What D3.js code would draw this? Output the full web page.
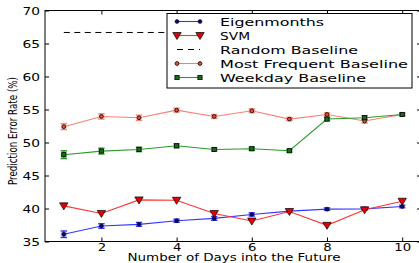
<!DOCTYPE html>
<html>
<head>
<meta charset="utf-8">
<script src="https://cdn.jsdelivr.net/npm/d3@7"></script>
<style>
  body { margin: 0; background: #fff; }
  svg { display: block; overflow: hidden; }
  text { font-family: "DejaVu Sans", sans-serif; fill: #000; }
</style>
</head>
<body>
<svg width="419" height="263"></svg>
<script>
var days = [1, 2, 3, 4, 5, 6, 7, 8, 9, 10];
var eigenmonths = [36.1, 37.35, 37.6, 38.15, 38.5, 39.1, 39.6, 39.9, 39.95, 40.3];
var eigenErr = [0.5, 0.35, 0.3, 0.25, 0.3, 0.25, 0.2, 0.2, 0.2, 0.2];
var svm = [40.4, 39.25, 41.3, 41.25, 39.25, 38.1, 39.55, 37.45, 39.8, 41.1];
var randomBaseline = 66.67;
var mostFrequent = [52.4, 53.95, 53.75, 54.9, 53.95, 54.8, 53.55, 54.25, 53.25, 54.25];
var mfErr = [0.45, 0.4, 0.4, 0.3, 0.3, 0.3, 0.25, 0.25, 0.3, 0.2];
var weekday = [48.15, 48.7, 48.95, 49.5, 48.95, 49.05, 48.75, 53.55, 53.75, 54.25];
var wdErr = [0.6, 0.45, 0.35, 0.3, 0.25, 0.25, 0.2, 0.25, 0.3, 0.2];
var xTicks = [2, 4, 6, 8, 10];
var yTicks = [35, 40, 45, 50, 55, 60, 65, 70];
var legendNames = ["Eigenmonths", "SVM", "Random Baseline", "Most Frequent Baseline", "Weekday Baseline"];

var svg = d3.select("svg");

var pLeft = 45, pRight = 421, pTop = 10.5, pBottom = 241.5;

var x = d3.scaleLinear().domain([0.5, 10.5]).range([pLeft, pRight]);
var y = d3.scaleLinear().domain([35, 70]).range([pBottom, pTop]);

// stretch text horizontally (reference glyphs are wider than DejaVu)
function stretch(sel, k) {
  sel.each(function() {
    var w = this.getComputedTextLength();
    d3.select(this).attr("textLength", w * k).attr("lengthAdjust", "spacingAndGlyphs");
  });
}

var line = d3.line().x((d, i) => x(days[i])).y(d => y(d));

var series = [
  {name: "Most Frequent Baseline", vals: mostFrequent, err: mfErr, color: "#fa8072", marker: "mfcircle"},
  {name: "Weekday Baseline", vals: weekday, err: wdErr, color: "#2a9a2a", marker: "square"},
  {name: "Eigenmonths", vals: eigenmonths, err: eigenErr, color: "#3535ff", marker: "dot"},
  {name: "SVM", vals: svm, err: null, color: "#ff3434", marker: "tri"}
];

function drawMarker(g, type, cx, cy) {
  if (type == "dot") {
    g.append("circle").attr("cx", cx).attr("cy", cy).attr("r", 2)
      .attr("fill", "#0a0a6a").attr("stroke", "#000").attr("stroke-width", 0.5);
  } else if (type == "mfcircle") {
    g.append("circle").attr("cx", cx).attr("cy", cy).attr("r", 1.9)
      .attr("fill", "#e8503c").attr("stroke", "#000").attr("stroke-width", 0.8);
  } else if (type == "square") {
    g.append("rect").attr("x", cx - 2.1).attr("y", cy - 2.1).attr("width", 4.2).attr("height", 4.2)
      .attr("fill", "#1d6a1d").attr("stroke", "#000").attr("stroke-width", 0.8);
  } else if (type == "tri") {
    g.append("path").attr("d", "M" + (cx - 4.2) + "," + (cy - 3) + "L" + (cx + 4.2) + "," + (cy - 3) + "L" + cx + "," + (cy + 4) + "Z")
      .attr("fill", "#e40000").attr("stroke", "#000").attr("stroke-width", 0.7);
  }
}

var plot = svg.append("g");

// random baseline
plot.append("line")
  .attr("x1", x(1)).attr("x2", x(10))
  .attr("y1", y(randomBaseline)).attr("y2", y(randomBaseline))
  .attr("stroke", "#000").attr("stroke-width", 1).attr("stroke-dasharray", "6,4.5");

series.forEach(function(s) {
  var g = plot.append("g");
  g.append("path").attr("d", line(s.vals)).attr("fill", "none")
    .attr("stroke", s.color).attr("stroke-width", 1.1);
  if (s.err) {
    s.vals.forEach(function(v, i) {
      var cx = x(days[i]), y0 = y(v - s.err[i]), y1 = y(v + s.err[i]);
      g.append("rect").attr("x", cx - 3).attr("y", y1).attr("width", 6).attr("height", y0 - y1)
        .attr("fill", s.color).attr("opacity", 0.3);
      g.append("line").attr("x1", cx).attr("x2", cx).attr("y1", y0).attr("y2", y1)
        .attr("stroke", s.color).attr("stroke-width", 1.3);
      [y0, y1].forEach(function(yy) {
        g.append("line").attr("x1", cx - 3.2).attr("x2", cx + 3.2).attr("y1", yy).attr("y2", yy)
          .attr("stroke", s.color).attr("stroke-width", 1.3);
      });
    });
  }
  s.vals.forEach(function(v, i) { drawMarker(g, s.marker, x(days[i]), y(v)); });
});

// spines
svg.append("rect").attr("x", pLeft).attr("y", pTop).attr("width", pRight - pLeft).attr("height", pBottom - pTop)
  .attr("fill", "none").attr("stroke", "#000").attr("stroke-width", 1);

// axes with inward ticks
var xAxis = svg.append("g").attr("transform", "translate(0," + pBottom + ")")
  .call(d3.axisBottom(x).tickValues(xTicks).tickSizeInner(-4).tickSizeOuter(0).tickPadding(3.5));
var xTop = svg.append("g").attr("transform", "translate(0," + pTop + ")")
  .call(d3.axisTop(x).tickValues(xTicks).tickSizeInner(-4).tickSizeOuter(0).tickFormat(""));
var yAxis = svg.append("g").attr("transform", "translate(" + pLeft + ",0)")
  .call(d3.axisLeft(y).tickValues(yTicks).tickSizeInner(-4).tickSizeOuter(0).tickPadding(5));
var yRight = svg.append("g").attr("transform", "translate(" + pRight + ",0)")
  .call(d3.axisRight(y).tickValues(yTicks).tickSizeInner(-4).tickSizeOuter(0).tickFormat(""));

[xAxis, xTop, yAxis, yRight].forEach(function(a) {
  a.select(".domain").remove();
  a.selectAll(".tick line").attr("stroke", "#000");
});
xAxis.selectAll("text").attr("font-size", 11).attr("font-family", "DejaVu Sans").attr("dy", "0.5em");
yAxis.selectAll("text").attr("font-size", 11).attr("font-family", "DejaVu Sans");
stretch(xAxis.selectAll("text"), 1.2);
stretch(yAxis.selectAll("text"), 1.25);

// axis labels
var xl = svg.append("text").attr("x", (pLeft + pRight) / 2 + 1).attr("y", 261)
  .attr("text-anchor", "middle").attr("font-size", 10.5).text("Number of Days into the Future");
xl.attr("textLength", 213).attr("lengthAdjust", "spacingAndGlyphs");

svg.append("text").attr("transform", "translate(17,131) rotate(-90)")
  .attr("text-anchor", "middle").attr("font-size", 11.5)
  .style("font-family", "'DejaVu Sans Condensed', 'Liberation Sans Narrow', 'DejaVu Sans'")
  .attr("textLength", 108).attr("lengthAdjust", "spacingAndGlyphs")
  .text("Prediction Error Rate (%)");

// legend
var legend = svg.append("g");
legend.append("rect").attr("x", 167).attr("y", 13.5).attr("width", 245).attr("height", 74.5)
  .attr("fill", "#fff").attr("stroke", "#000").attr("stroke-width", 1);

var legendItems = [
  {color: "#3535ff", marker: "dot"},
  {color: "#ff3434", marker: "tri"},
  {color: "#000", marker: null, dash: true},
  {color: "#fa8072", marker: "mfcircle"},
  {color: "#2a9a2a", marker: "square"}
];
var textWidths = [104, 30, 138, 188, 146];

legendNames.forEach(function(name, i) {
  var ly = 21.5 + i * 14;
  var it = legendItems[i];
  var g = legend.append("g");
  g.append("line").attr("x1", 177).attr("x2", 200).attr("y1", ly).attr("y2", ly)
    .attr("stroke", it.color).attr("stroke-width", 1.1)
    .attr("stroke-dasharray", it.dash ? "6,5" : null);
  if (it.marker) {
    drawMarker(g, it.marker, 177, ly);
    drawMarker(g, it.marker, 200, ly);
  }
  g.append("text").attr("x", 220).attr("y", ly + 4).attr("font-size", 11)
    .attr("textLength", textWidths[i]).attr("lengthAdjust", "spacingAndGlyphs")
    .text(name);
});
</script>
</body>
</html>
